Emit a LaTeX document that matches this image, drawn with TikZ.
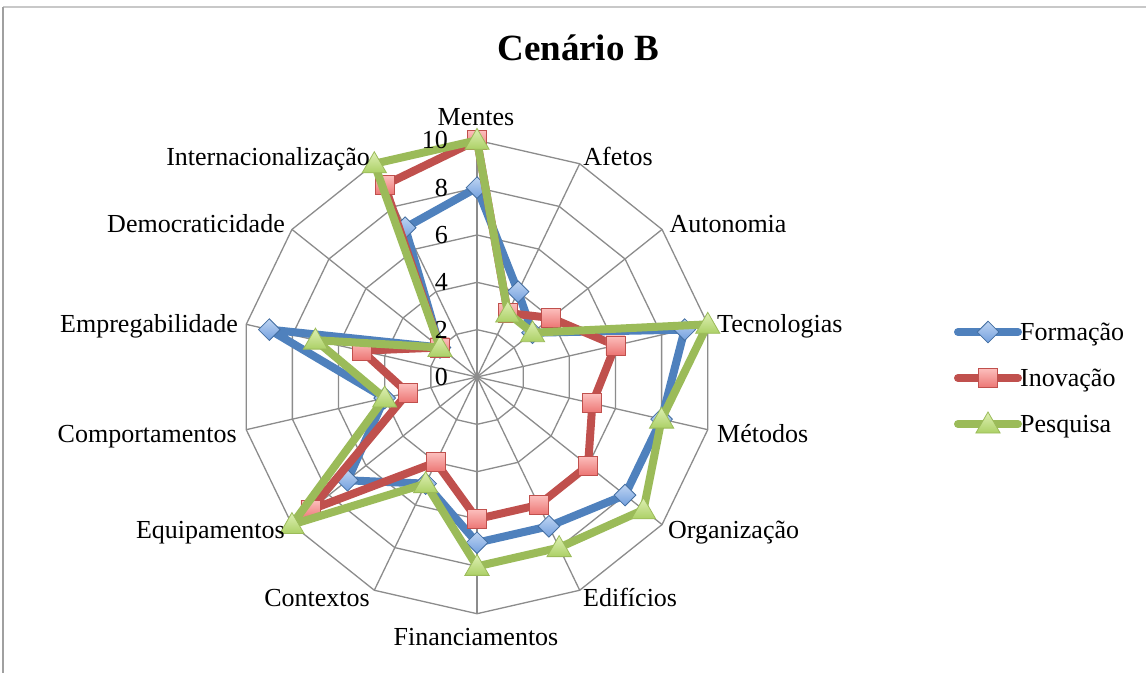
\documentclass[tikz,border=0pt]{standalone}
\usepackage{fontspec}
\setmainfont{Liberation Serif}
\usetikzlibrary{shapes.geometric}
\definecolor{fblue}{RGB}{79,129,189}
\definecolor{fblueL}{RGB}{190,212,242}
\definecolor{fblueD}{RGB}{115,160,222}
\definecolor{ired}{RGB}{192,80,77}
\definecolor{iredL}{RGB}{252,190,188}
\definecolor{iredD}{RGB}{236,118,116}
\definecolor{pgreen}{RGB}{155,187,89}
\definecolor{pgreenL}{RGB}{222,240,180}
\definecolor{pgreenD}{RGB}{172,208,102}
\definecolor{gridc}{RGB}{140,140,140}
\begin{document}
\begin{tikzpicture}[x=1pt,y=1pt,
  lbl/.style={font=\fontsize{26}{30}\selectfont, inner sep=0pt, text height=17pt, text depth=0pt},
  ttl/.style={font=\fontsize{37}{42}\selectfont\bfseries, inner sep=0pt, text height=24pt, text depth=0pt},
  gridline/.style={draw=gridc, line width=1.3pt},
  sline/.style={line width=8pt, line cap=round, line join=round},
  fmark/.style={diamond, draw=fblue!85!black, line width=0.8pt, top color=fblueL, bottom color=fblueD, minimum width=22pt, minimum height=22pt, inner sep=0pt},
  imark/.style={rectangle, draw=ired, line width=0.8pt, top color=iredL, bottom color=iredD, minimum size=19pt, inner sep=0pt},
  pmark/.style={regular polygon, regular polygon sides=3, draw=pgreen, line width=0.8pt, top color=pgreenL, bottom color=pgreenD, minimum size=28pt, inner sep=0pt, yshift=-2pt}
]
\useasboundingbox (0,0) rectangle (1146,-673);
\fill[white] (0,0) rectangle (1146,-673);
% frame
\draw[line width=1.5pt, draw={rgb,255:red,200;green,200;blue,200}] (3,-7) -- (1146,-7);
\draw[line width=1.5pt, draw={rgb,255:red,160;green,160;blue,160}] (3,-7) -- (3,-673);
% title
\node[ttl] (title) at (578,-48) {Cenário B};

\begin{scope}[shift={(477,-377)}]
  % grid rings
  \foreach \r in {2,4,6,8,10}{
    \draw[gridline] (90:{\r*23.67pt}) \foreach \k in {1,...,13}{ -- ({90-\k*360/14}:{\r*23.67pt})} -- cycle;
  }
  % spokes
  \coordinate (O) at (0,0);
  \foreach \k in {0,...,13}{
    \coordinate (S\k) at ({90-\k*360/14}:236.7pt);
    \draw[gridline] (O) -- (S\k);
  }
  % Formação
  \foreach \v [count=\k from 0] in {8,4,3,9,8,8,7,7,5,7,4,9,2,7}
    \coordinate (F\k) at ({90-\k*360/14}:{\v*23.67pt});
  \draw[sline, fblue] (F0) \foreach \k in {1,...,13}{ -- (F\k)} -- cycle;
  \foreach \k in {0,...,13} \node[fmark] (fm\k) at (F\k) {};
  % Inovação
  \foreach \v [count=\k from 0] in {10,3,4,6,5,6,6,6,4,9,3,5,2,9}
    \coordinate (I\k) at ({90-\k*360/14}:{\v*23.67pt});
  \draw[sline, ired] (I0) \foreach \k in {1,...,13}{ -- (I\k)} -- cycle;
  \foreach \k in {0,...,13} \node[imark] (im\k) at (I\k) {};
  % Pesquisa
  \foreach \v [count=\k from 0] in {10,3,3,10,8,9,8,8,5,10,4,7,2,10}
    \coordinate (P\k) at ({90-\k*360/14}:{\v*23.67pt});
  \draw[sline, pgreen] (P0) \foreach \k in {1,...,13}{ -- (P\k)} -- cycle;
  \foreach \k in {0,...,13} \node[pmark] (pm\k) at (P\k) {};
\end{scope}

% tick labels
\foreach \v in {0,2,4,6,8,10}
  \node[lbl, anchor=east] (t\v) at (448,{-377+\v*23.67}) {\v};

% axis labels
\node[lbl] (a0) at (476,-117) {Mentes};
\node[lbl] (a1) at (618,-157) {Afetos};
\node[lbl] (a2) at (728,-224) {Autonomia};
\node[lbl, anchor=west] (a3) at (717,-324) {Tecnologias};
\node[lbl, anchor=west] (a4) at (717,-434) {Métodos};
\node[lbl, anchor=west] (a5) at (668,-530) {Organização};
\node[lbl, anchor=west] (a6) at (583,-598) {Edifícios};
\node[lbl] (a7) at (476,-637) {Financiamentos};
\node[lbl, anchor=east] (a8) at (370,-598) {Contextos};
\node[lbl, anchor=east] (a9) at (285,-530) {Equipamentos};
\node[lbl, anchor=east] (a10) at (237,-434) {Comportamentos};
\node[lbl, anchor=east] (a11) at (238,-324) {Empregabilidade};
\node[lbl, anchor=east] (a12) at (285,-224) {Democraticidade};
\node[lbl, anchor=east] (a13) at (370,-157) {Internacionalização};

% legend
\coordinate (lfa) at (958,-332); \coordinate (lfb) at (1018,-332);
\coordinate (lia) at (958,-378); \coordinate (lib) at (1018,-378);
\coordinate (lpa) at (958,-424); \coordinate (lpb) at (1018,-424);
\draw[sline, fblue] (lfa) -- (lfb);
\node[fmark] (lfm) at (988,-332) {};
\draw[sline, ired] (lia) -- (lib);
\node[imark] (lim) at (988,-378) {};
\draw[sline, pgreen] (lpa) -- (lpb);
\node[pmark] (lpm) at (988,-424) {};
\node[lbl, anchor=west] (lf) at (1020,-332) {Formação};
\node[lbl, anchor=west] (li) at (1020,-378) {Inovação};
\node[lbl, anchor=west] (lp) at (1020,-424) {Pesquisa};
\end{tikzpicture}
\end{document}
